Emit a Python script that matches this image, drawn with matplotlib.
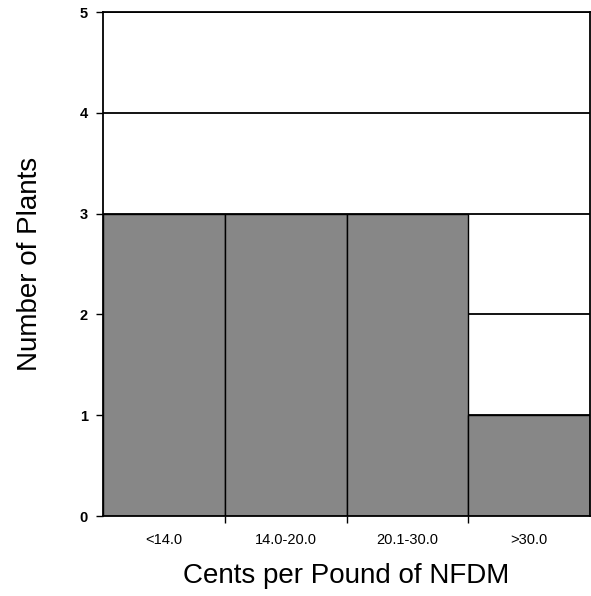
import matplotlib.pyplot as plt

plt.rcParams['font.family'] = ['Liberation Sans', 'DejaVu Sans']

# datos
rangos = ['<14.0', '14.0-20.0', '20.1-30.0', '>30.0']
plantas = [3, 3, 3, 1]

fig = plt.figure(figsize=(5.91, 5.96), dpi=100)
ax = fig.add_axes([0.1743, 0.1342, 0.824, 0.8456])

pos = list(range(len(rangos)))
ax.bar(pos, plantas, width=1.0, color='#878787', edgecolor='black', linewidth=1.0, zorder=2)

ax.set_xlim(-0.5, len(rangos) - 0.5)
ax.set_ylim(0, 5)
ax.set_yticks([0, 1, 2, 3, 4, 5])
ax.yaxis.grid(True, color='black', linewidth=1.3, zorder=1)
ax.set_axisbelow(True)

# etiquetas en el centro, marcas en los limites de cada barra
ax.set_xticks(pos)
ax.set_xticklabels(rangos, fontsize=10.5)
ax.set_xticks([i + 0.5 for i in pos[:-1]], minor=True)
ax.tick_params(axis='x', which='major', length=0, pad=12)
ax.tick_params(axis='x', which='minor', length=5, width=1, direction='out')
ax.tick_params(axis='y', length=5, width=1, labelsize=10.5, pad=6)
for t in ax.get_yticklabels():
    t.set_fontweight('bold')

for s in ax.spines.values():
    s.set_linewidth(1.3)

ax.set_ylabel('Number of Plants', fontsize=20, labelpad=26)
ax.set_xlabel('Cents per Pound of NFDM', fontsize=20, labelpad=12)

plt.savefig('out.png', dpi=100)
